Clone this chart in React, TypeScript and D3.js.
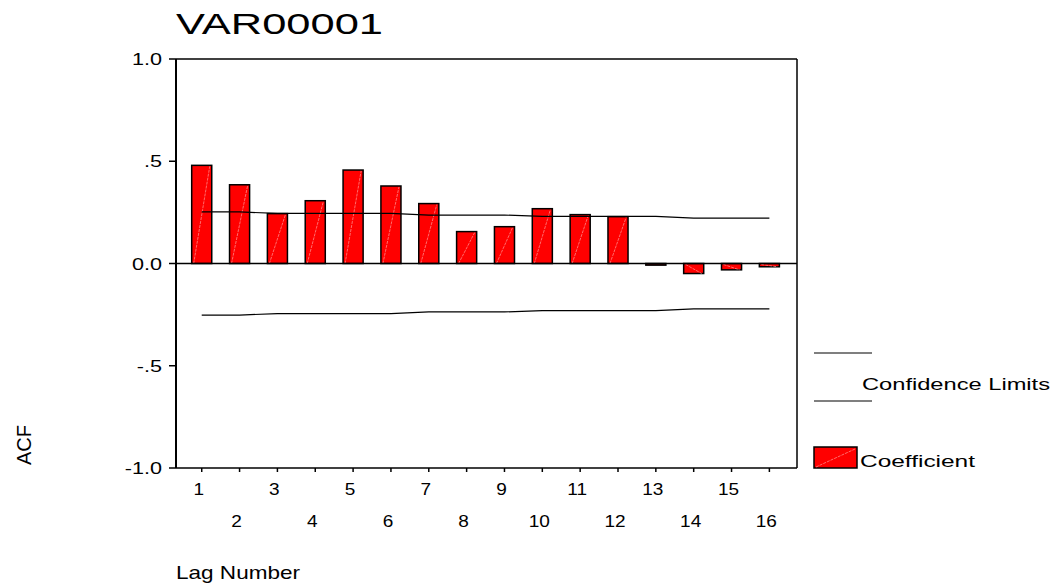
import React from "react";
import * as d3 from "d3";

const lags = [1, 2, 3, 4, 5, 6, 7, 8, 9, 10, 11, 12, 13, 14, 15, 16];
const acf = [0.48, 0.385, 0.244, 0.307, 0.457, 0.379, 0.293, 0.156, 0.18, 0.268, 0.239, 0.229, -0.008, -0.049, -0.031, -0.016];
const confUpper = [0.252, 0.252, 0.245, 0.245, 0.245, 0.245, 0.237, 0.237, 0.237, 0.23, 0.23, 0.23, 0.23, 0.222, 0.222, 0.222];
const confLower = confUpper.map((v) => -v);
const yTicks = [1.0, 0.5, 0.0, -0.5, -1.0];
const yTickLabels = ["1.0", ".5", "0.0", "-.5", "-1.0"];

const FONT = "'Liberation Sans', Arial, Helvetica, sans-serif";

export default function App() {
  const plotLeft = 176;
  const plotRight = 797;
  const plotTop = 59;
  const plotBottom = 468;

  const x = d3
    .scaleBand<number>()
    .domain(lags)
    .range([182.8, 788.3])
    .paddingInner(0.47)
    .paddingOuter(0.235);
  const y = d3.scaleLinear().domain([-1, 1]).range([plotBottom, plotTop]);
  const cx = (l: number) => (x(l) as number) + x.bandwidth() / 2;
  const bw = x.bandwidth();

  const line = d3
    .line<number>()
    .x((_, i) => cx(lags[i]))
    .y((d) => y(d));

  return (
    <svg
      width={1059}
      height={588}
      style={{ position: "absolute", left: 0, top: 0, background: "#fff" }}
      fontFamily={FONT}
    >
      {/* Title */}
      <text x={176} y={34} fontSize={30} textLength={207} lengthAdjust="spacingAndGlyphs">
        VAR00001
      </text>

      {/* Bars */}
      {lags.map((l, i) => {
        const v = acf[i];
        const y0 = y(0);
        const y1 = y(v);
        const top = Math.min(y0, y1);
        const h = Math.abs(y1 - y0);
        const left = cx(l) - bw / 2;
        return (
          <g key={l}>
            <rect x={left} y={top} width={bw} height={h} fill="#ff0000" stroke="#000" strokeWidth={1.5} />
            {h > 3 && (
              <line
                x1={left + 2}
                y1={v >= 0 ? y0 : top + 1}
                x2={left + bw - 2}
                y2={v >= 0 ? y1 + 1 : y1}
                stroke="#ff9a9a"
                strokeWidth={0.7}
                strokeDasharray="3,1"
              />
            )}
          </g>
        );
      })}

      {/* Confidence limits */}
      <path d={line(confUpper) || ""} fill="none" stroke="#000" strokeWidth={1.2} />
      <path d={line(confLower) || ""} fill="none" stroke="#000" strokeWidth={1.2} />

      {/* Zero line */}
      <line x1={plotLeft} x2={plotRight} y1={y(0)} y2={y(0)} stroke="#000" strokeWidth={1.5} />

      {/* Frame */}
      <line x1={plotLeft} x2={plotRight} y1={plotTop} y2={plotTop} stroke="#000" strokeWidth={1.5} />
      <line x1={plotRight} x2={plotRight} y1={plotTop} y2={plotBottom} stroke="#000" strokeWidth={1.5} />
      <line x1={plotLeft} x2={plotRight} y1={plotBottom} y2={plotBottom} stroke="#000" strokeWidth={1.5} />
      <line x1={plotLeft} x2={plotLeft} y1={plotTop} y2={plotBottom} stroke="#000" strokeWidth={2} />

      {/* Y ticks */}
      {yTicks.map((t, i) => (
        <g key={t}>
          <line x1={169} x2={plotLeft} y1={y(t)} y2={y(t)} stroke="#000" strokeWidth={1.5} />
          <text
            transform={`translate(162,${y(t) + 6}) scale(1.35,1)`}
            fontSize={16}
            textAnchor="end"
          >
            {yTickLabels[i]}
          </text>
        </g>
      ))}

      {/* X ticks */}
      {lags.map((l) => (
        <g key={l}>
          <line x1={cx(l)} x2={cx(l)} y1={plotBottom} y2={plotBottom + 4} stroke="#000" strokeWidth={1.5} />
          <text
            transform={`translate(${cx(l) - 3},${l % 2 === 1 ? 495 : 527}) scale(1.12,1)`}
            fontSize={17}
            textAnchor="middle"
          >
            {l}
          </text>
        </g>
      ))}

      {/* Axis titles */}
      <text
        transform={`translate(31,445) rotate(-90)`}
        fontSize={20}
        textAnchor="middle"
      >
        ACF
      </text>
      <text x={176} y={579} fontSize={19} textLength={124} lengthAdjust="spacingAndGlyphs">
        Lag Number
      </text>

      {/* Legend */}
      <line x1={814} x2={872} y1={353} y2={353} stroke="#000" strokeWidth={1.2} />
      <line x1={814} x2={872} y1={401} y2={401} stroke="#000" strokeWidth={1.2} />
      <text x={862} y={390} fontSize={16} textLength={188} lengthAdjust="spacingAndGlyphs">
        Confidence Limits
      </text>
      <rect x={814} y={447} width={43} height={21} fill="#ff0000" stroke="#000" strokeWidth={1.5} />
      <line x1={816} y1={467} x2={855} y2={449} stroke="#ff9a9a" strokeWidth={0.7} strokeDasharray="3,1" />
      <text x={860} y={467} fontSize={16} textLength={115} lengthAdjust="spacingAndGlyphs">
        Coefficient
      </text>
    </svg>
  );
}
